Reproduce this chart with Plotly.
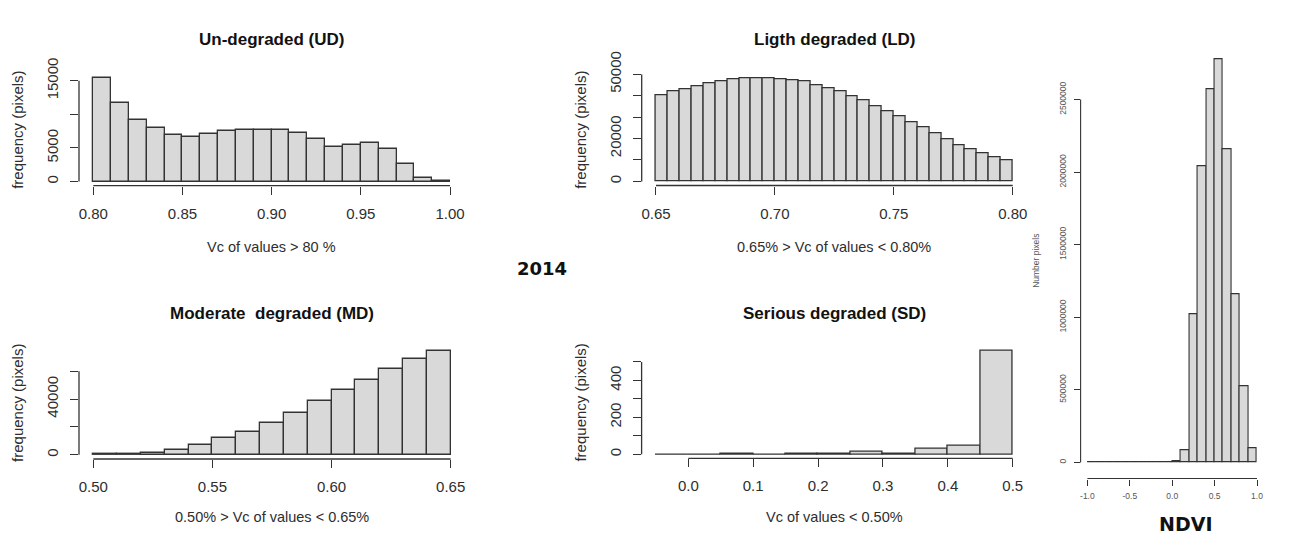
import plotly.graph_objects as go

W, H = 1293, 544

# ---------------- data ----------------
ud_left = [0.80, 0.81, 0.82, 0.83, 0.84, 0.85, 0.86, 0.87, 0.88, 0.89,
           0.90, 0.91, 0.92, 0.93, 0.94, 0.95, 0.96, 0.97, 0.98, 0.99]
ud_width = 0.01
ud_counts = [15400, 11770, 9240, 8000, 7000, 6700, 7150, 7600, 7750, 7650,
             7750, 7300, 6360, 5200, 5460, 5800, 4870, 2680, 500, 30]

ld_left = [0.650, 0.655, 0.660, 0.665, 0.670, 0.675, 0.680, 0.685, 0.690, 0.695,
           0.700, 0.705, 0.710, 0.715, 0.720, 0.725, 0.730, 0.735, 0.740, 0.745,
           0.750, 0.755, 0.760, 0.765, 0.770, 0.775, 0.780, 0.785, 0.790, 0.795]
ld_width = 0.005
ld_counts = [40300, 41900, 43100, 44500, 45800, 46700, 47700, 48100, 48100, 48100,
             47800, 47200, 46700, 44900, 43600, 41900, 39900, 37700, 35200, 32700,
             30400, 27600, 25400, 22400, 19900, 17100, 15100, 13100, 11100, 9700]

md_left = [0.50, 0.51, 0.52, 0.53, 0.54, 0.55, 0.56, 0.57, 0.58, 0.59,
           0.60, 0.61, 0.62, 0.63, 0.64]
md_width = 0.01
md_counts = [500, 500, 1200, 3600, 7200, 11800, 16300, 22800, 30200, 38900,
             46600, 53800, 61700, 68600, 74400]

sd_left = [-0.05, 0.00, 0.05, 0.10, 0.15, 0.20, 0.25, 0.30, 0.35, 0.40, 0.45]
sd_width = 0.05
sd_counts = [0, 0, 5, 0, 5, 5, 14, 5, 29, 49, 560]

ndvi_left = [-1.0, -0.9, -0.8, -0.7, -0.6, -0.5, -0.4, -0.3, -0.2, -0.1,
             0.0, 0.1, 0.2, 0.3, 0.4, 0.5, 0.6, 0.7, 0.8, 0.9]
ndvi_width = 0.1
ndvi_counts = [0, 0, 0, 0, 0, 0, 0, 0, 0, 0,
               7000, 82600, 1018000, 2041000, 2570000, 2777000, 2161000, 1159000, 524000, 101000]

# tick labels
ud_xticks = [0.80, 0.85, 0.90, 0.95, 1.00]
ud_xtext = ["0.80", "0.85", "0.90", "0.95", "1.00"]
ud_yticks = [0, 5000, 10000, 15000]
ud_ytext = ["0", "5000", "", "15000"]

ld_xticks = [0.65, 0.70, 0.75, 0.80]
ld_xtext = ["0.65", "0.70", "0.75", "0.80"]
ld_yticks = [0, 10000, 20000, 30000, 40000, 50000]
ld_ytext = ["0", "", "20000", "", "", "50000"]

md_xticks = [0.50, 0.55, 0.60, 0.65]
md_xtext = ["0.50", "0.55", "0.60", "0.65"]
md_yticks = [0, 20000, 40000, 60000]
md_ytext = ["0", "", "40000", ""]

sd_xticks = [0.0, 0.1, 0.2, 0.3, 0.4, 0.5]
sd_xtext = ["0.0", "0.1", "0.2", "0.3", "0.4", "0.5"]
sd_yticks = [0, 100, 200, 300, 400, 500]
sd_ytext = ["0", "", "200", "", "400", ""]

ndvi_xticks = [-1.0, -0.5, 0.0, 0.5, 1.0]
ndvi_xtext = ["-1.0", "-0.5", "0.0", "0.5", "1.0"]
ndvi_yticks = [0, 500000, 1000000, 1500000, 2000000, 2500000]
ndvi_ytext = ["0", "500000", "1000000", "1500000", "2000000", "2500000"]

titles = ["Un-degraded (UD)", "Ligth degraded (LD)", "Moderate  degraded (MD)", "Serious degraded (SD)"]
xtitles = ["Vc of values > 80 %", "0.65% > Vc of values < 0.80%",
           "0.50% > Vc of values < 0.65%", "Vc of values < 0.50%"]
ytitle = "frequency (pixels)"

# ---------------- layout helpers ----------------
FONT = "Liberation Sans, Arial, sans-serif"
TXT = "#2e2e2e"
LINE = "#333333"
FILL = "#d9d9d9"

def px_x(v):
    return v / W

def px_y(v):
    return 1 - v / H

# panel boxes in pixels: (left, right, top, bottom)
panels = [
    dict(left=ud_left, width=ud_width, counts=ud_counts, xt=ud_xticks, xtt=ud_xtext,
         yt=ud_yticks, ytt=ud_ytext, box=(79, 464.3, 73.9, 185.7), small=False),
    dict(left=ld_left, width=ld_width, counts=ld_counts, xt=ld_xticks, xtt=ld_xtext,
         yt=ld_yticks, ytt=ld_ytext, box=(641.7, 1027, 74.2, 185.5), small=False),
    dict(left=md_left, width=md_width, counts=md_counts, xt=md_xticks, xtt=md_xtext,
         yt=md_yticks, ytt=md_ytext, box=(79, 465, 346.9, 459), small=False),
    dict(left=sd_left, width=sd_width, counts=sd_counts, xt=sd_xticks, xtt=sd_xtext,
         yt=sd_yticks, ytt=sd_ytext, box=(641.6, 1027, 346.7, 458.4), small=False),
    dict(left=ndvi_left, width=ndvi_width, counts=ndvi_counts, xt=ndvi_xticks, xtt=ndvi_xtext,
         yt=ndvi_yticks, ytt=ndvi_ytext, box=(1080.6, 1263.8, 43.2, 478.5), small=True),
]

fig = go.Figure()
layout = dict(width=W, height=H, margin=dict(l=0, r=0, t=0, b=0, pad=0, autoexpand=False),
              template="none",
              paper_bgcolor="white", plot_bgcolor="white", showlegend=False,
              bargap=0, font=dict(family=FONT, color=TXT))
shapes = []
annotations = []

for i, p in enumerate(panels, start=1):
    xs = "" if i == 1 else str(i)
    centers = [l + p["width"] / 2 for l in p["left"]]
    fig.add_trace(go.Bar(
        x=centers, y=p["counts"], width=[p["width"]] * len(centers),
        marker=dict(color=FILL, line=dict(color=LINE, width=1.1 if p["small"] else 1.3)),
        xaxis="x" + xs, yaxis="y" + xs, hoverinfo="x+y"))
    lo = p["left"][0]
    hi = p["left"][-1] + p["width"]
    pad = 0.04 * (hi - lo)
    ymax = max(p["counts"])
    L, R, T, B = p["box"]
    small = p["small"]
    tick_font = dict(family=FONT, size=8.5 if small else 15, color="#555555" if small else TXT)
    layout["xaxis" + xs] = dict(
        domain=[px_x(L), px_x(R)], range=[lo - pad, hi + pad], anchor="y" + xs,
        automargin=False,
        showgrid=False, zeroline=False, showline=False,
        tickmode="array", tickvals=p["xt"], ticktext=p["xtt"],
        ticks="outside", ticklen=6 if small else 8, tickwidth=1.1 if small else 1.3, tickcolor=LINE,
        tickfont=tick_font, ticklabelstandoff=3 if small else 6, fixedrange=True)
    layout["yaxis" + xs] = dict(
        domain=[px_y(B), px_y(T)], range=[-0.04 * ymax, 1.04 * ymax], anchor="x" + xs,
        automargin=False,
        showgrid=False, zeroline=False, showline=False,
        tickmode="array", tickvals=p["yt"], ticktext=p["ytt"], tickangle=-90,
        ticks="outside", ticklen=6 if small else 8, tickwidth=1.1 if small else 1.3, tickcolor=LINE,
        tickfont=tick_font, ticklabelstandoff=4 if small else 6, fixedrange=True)
    # R-style axis lines spanning first to last tick
    shapes.append(dict(type="line", xref="x" + xs + " domain", yref="y" + xs,
                       x0=0, x1=0, y0=p["yt"][0], y1=p["yt"][-1],
                       line=dict(color=LINE, width=1.1 if small else 1.3)))
    shapes.append(dict(type="line", xref="x" + xs, yref="y" + xs + " domain",
                       x0=p["xt"][0], x1=p["xt"][-1], y0=0, y1=0,
                       line=dict(color=LINE, width=1.1 if small else 1.3)))

    cx = (L + R) / 2
    cy = (T + B) / 2
    if not small:
        title_y = 40 if i <= 2 else 313
        xlab_y = 247 if i <= 2 else 517
        ylab_x = 18 if i in (1, 3) else 581
        annotations.append(dict(text="<b>" + titles[i - 1] + "</b>", x=px_x(cx), y=px_y(title_y),
                                xref="paper", yref="paper", showarrow=False,
                                xanchor="center", yanchor="middle",
                                font=dict(family=FONT, size=17, color="#111111")))
        annotations.append(dict(text=xtitles[i - 1], x=px_x(cx), y=px_y(xlab_y),
                                xref="paper", yref="paper", showarrow=False,
                                xanchor="center", yanchor="middle",
                                font=dict(family=FONT, size=14.5, color=TXT)))
        annotations.append(dict(text=ytitle, x=px_x(ylab_x), y=px_y(cy), textangle=-90,
                                xref="paper", yref="paper", showarrow=False,
                                xanchor="center", yanchor="middle",
                                font=dict(family=FONT, size=15, color=TXT)))
    else:
        annotations.append(dict(text="Number pixels", x=px_x(1036), y=px_y(cy), textangle=-90,
                                xref="paper", yref="paper", showarrow=False,
                                xanchor="center", yanchor="middle",
                                font=dict(family=FONT, size=8.5, color="#555555")))

annotations.append(dict(text="<b>2014</b>", x=px_x(541.7), y=px_y(268),
                        xref="paper", yref="paper", showarrow=False,
                        xanchor="center", yanchor="middle",
                        font=dict(family="DejaVu Sans, Verdana, sans-serif", size=18, color="#111111")))
annotations.append(dict(text="<b>NDVI</b>", x=px_x(1185), y=px_y(524),
                        xref="paper", yref="paper", showarrow=False,
                        xanchor="center", yanchor="middle",
                        font=dict(family="DejaVu Sans, Verdana, sans-serif", size=19, color="#111111")))

layout["shapes"] = shapes
layout["annotations"] = annotations
fig.update_layout(**layout)
fig.write_html("out.html", config={"displayModeBar": False, "staticPlot": False},
               post_script="document.body.style.margin='0px';document.body.style.padding='0px';")
